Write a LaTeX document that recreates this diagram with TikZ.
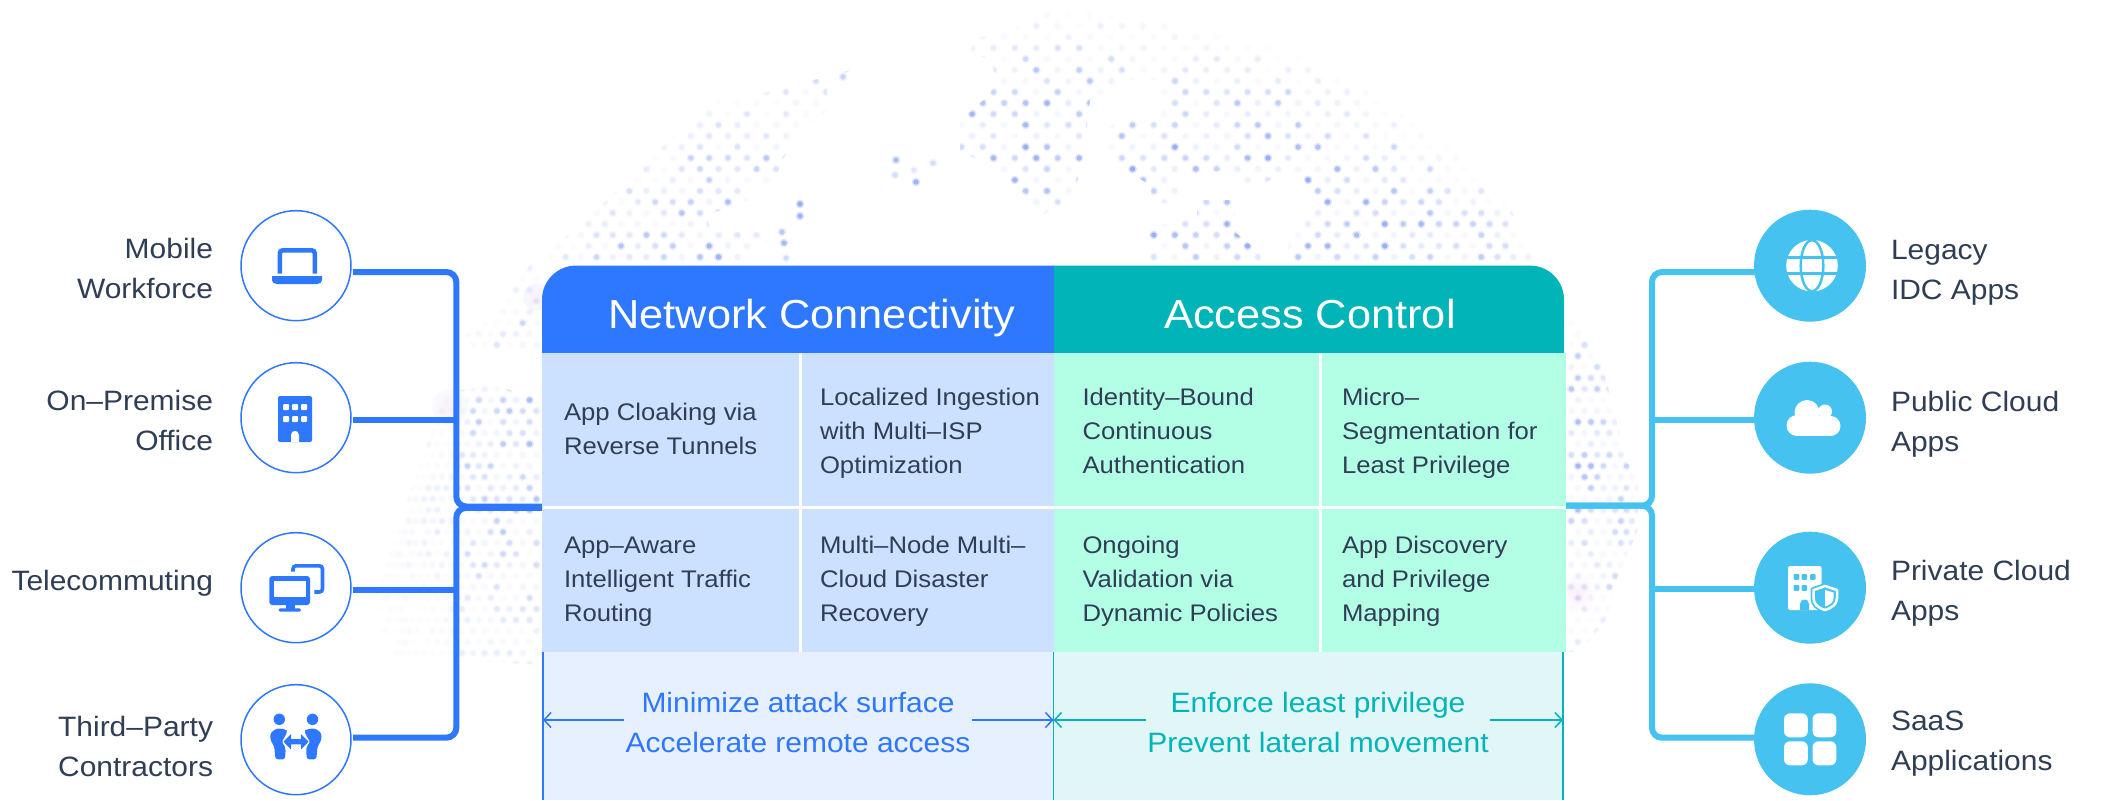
\documentclass[tikz,border=0pt]{standalone}
\usepackage{fontspec}
\setmainfont[FakeStretch=1.07]{Liberation Sans}
\usetikzlibrary{arrows.meta}
\definecolor{bluec}{HTML}{2E77FF}
\definecolor{tealc}{HTML}{00B4B8}
\definecolor{skyc}{HTML}{45C2EF}
\definecolor{inkc}{HTML}{2F3E55}
\definecolor{cellb}{HTML}{CCE0FF}
\definecolor{cellg}{HTML}{B3FFE5}
\definecolor{lowb}{HTML}{E7F0FE}
\definecolor{lowg}{HTML}{E1F6F7}
\definecolor{dotc}{HTML}{8FA8F2}
\definecolor{glowc}{HTML}{F3F7FF}
\definecolor{pinkc}{HTML}{FCEFF8}
\pgfdeclareradialshading{globeglow}{\pgfpointorigin}{color(0bp)=(white); color(29bp)=(white); color(41bp)=(glowc); color(47bp)=(glowc!70!white); color(50bp)=(white)}
\newcommand\uptall{\rule{0pt}{22pt}}
\newcommand\dnlow{\rule[-8pt]{0pt}{8pt}}
\newcommand\upcell{\rule{0pt}{18pt}}
\newcommand\dncell{\rule[-6pt]{0pt}{6pt}}
\tikzset{
  every node/.style={inner sep=0pt,outer sep=0pt},
  lab/.style={text=inkc,font=\fontsize{28}{40}\selectfont,align=left},
  labr/.style={text=inkc,font=\fontsize{28}{40}\selectfont,align=right},
  ring/.style={circle,draw=bluec,line width=1.5pt,fill=white,minimum size=110pt},
  disc/.style={circle,fill=skyc,minimum size=112pt},
  busl/.style={draw=bluec,line width=6pt,rounded corners=10pt},
  busr/.style={draw=skyc,line width=6pt,rounded corners=10pt},
  headt/.style={text=white,font=\fontsize{40.5}{48}\selectfont,anchor=base},
  celltxt/.style={text=inkc,font=\fontsize{24}{34}\selectfont,align=left,anchor=west},
  goal/.style={font=\fontsize{28}{40}\selectfont,align=center},
}
\begin{document}
\begin{tikzpicture}[x=1pt,y=-1pt]
\useasboundingbox (0,0) rectangle (2116,800);
\fill[white] (0,0) rectangle (2116,800);
% globe
\begin{scope}
\clip (0,0) rectangle (2116,800);
\shade[shading=globeglow] (1047,680) circle (675);
\shade[inner color=pinkc,outer color=glowc!50!white] (450,407) circle (18);
\shade[inner color=pinkc,outer color=glowc!70!white] (537,297) circle (14);
\shade[inner color=pinkc,outer color=white] (1577,593) circle (20);
\begin{scope}
\clip
 (850,70) -- (778,90) -- (711,103) -- (675,135) -- (639,168) -- (607,200) -- (568,235) -- (530,265) -- (490,320) -- (465,335) -- (475,350) -- (545,350) -- (560,268) -- (715,268) -- (752,268) -- (752,242) -- (770,242) -- (770,232) -- (712,232) -- (708,222) -- (715,212) -- (748,200) -- (740,188) -- (770,186) -- (778,172) -- (782,160) -- (800,135) -- (825,112) -- (828,85) -- cycle
 (445,392) -- (495,385) -- (542,400) -- (542,665) -- (385,655) -- (375,600) -- (400,520) -- (425,450) -- cycle
 (1040,13) -- (1083,10) -- (1165,23) -- (1261,37) -- (1340,73) -- (1419,127) -- (1469,160) -- (1511,210) -- (1540,263) -- (1603,368) -- (1618,427) -- (1625,460) -- (1638,475) -- (1638,530) -- (1618,575) -- (1606,620) -- (1580,652) -- (1564,652) -- (1300,300) -- (1147,268) -- (1150,227) -- (1197,217) -- (1197,200) -- (1233,200) -- (1236,233) -- (1254,247) -- (1269,268) -- (1286,268) -- (1290,233) -- (1308,213) -- (1315,200) -- (1304,180) -- (1294,170) -- (1254,187) -- (1240,185) -- (1226,170) -- (1179,177) -- (1176,203) -- (1151,203) -- (1151,185) -- (1122,170) -- (1111,157) -- (1108,130) -- (1122,117) -- (1158,120) -- (1160,80) -- (1119,80) -- (1111,97) -- (1090,100) -- (1086,133) -- (1083,160) -- (1077,182) -- (1072,199) -- (1054,208) -- (1039,218) -- (1026,204) -- (1007,180) -- (986,163) -- (960,152) -- (960,120) -- (986,98) -- (998,82) -- (990,60) -- (970,52) -- (975,38) -- (1014,30) -- cycle;
\pgfmathsetseed{11}
\foreach \r in {0,...,60}{
 \foreach \k in {-49,...,49}{
  \pgfmathsetmacro\yy{15+11*\r}
  \pgfmathsetmacro\xx{1047+675*sin((\k+0.5*mod(\r,2))*1.82)}
  \pgfmathsetmacro\dd{sqrt(((\xx-1047)/100)^2+((\yy-680)/100)^2)/6.75}
  \pgfmathtruncatemacro\vis{(\dd<1)&&!((\yy>262)&&(\xx>538)&&(\xx<1568))?1:0}
  \ifnum\vis=1
   \pgfmathsetmacro\rr{rnd}
   \pgfmathsetmacro\op{(0.05+0.85*\rr*\rr)*min(1,(1-\dd)*6+0.05)*max(0.2,min(1,1-(\yy-440)/230))*(\xx<456?0.55:1)}
   \pgfmathsetmacro\oph{\op*0.35}
   \fill[dotc,opacity=\oph] (\xx,\yy) circle (4.4);
   \fill[dotc,opacity=\op] (\xx,\yy) circle (2.7);
  \fi
 }
}
\end{scope}
\foreach \a/\b/\o in {800/204/.9,800/216/.8,782/232/.5,784/243/.7,786/258/.3,896/160/.7,895/175/.3,916/182/.8,933/163/.3,914/170/.2,843/77/.4}{
 \pgfmathsetmacro\oph{\o*0.35}
 \fill[dotc,opacity=\oph] (\a,\b) circle (4.4);
 \fill[dotc,opacity=\o] (\a,\b) circle (2.7);
}
\end{scope}

% named connection points
\coordinate (lj1) at (353,272);
\coordinate (lj2) at (353,420);
\coordinate (lj3) at (353,590);
\coordinate (lj4) at (353,737.7);
\coordinate (lbus) at (456.3,507);
\coordinate (lin1) at (542,506.5);
\coordinate (lin2) at (542,507.8);
\coordinate (rj1) at (1770,272);
\coordinate (rj2) at (1770,420);
\coordinate (rj3) at (1770,588.7);
\coordinate (rj4) at (1770,737.7);
\coordinate (rbus) at (1652,506);
\coordinate (rin) at (1566,505.7);

% connectors
\draw[busl] (lj1) -- (lbus|-lj1) -- (lbus|-lin1) -- (lin1);
\draw[busl] (lj4) -- (lbus|-lj4) -- (lbus|-lin2) -- (lin2);
\draw[busl] (lj2) -- (lbus|-lj2);
\draw[busl] (lj3) -- (lbus|-lj3);
\draw[busr] (rj1) -- (rbus|-rj1) -- (rbus|-rin) -- (rin);
\draw[busr] (rj4) -- (rbus|-rj4) -- (rbus|-rin) -- (rin);
\draw[busr] (rj2) -- (rbus|-rj2);
\draw[busr] (rj3) -- (rbus|-rj3);

% panel header
\fill[bluec] (542,353) -- (542,299.6) .. controls (542,280.8) and (557.2,265.6) .. (576,265.6) -- (1054.5,265.6) -- (1054.5,353) -- cycle;
\fill[tealc] (1054,353) -- (1054,265.6) -- (1530,265.6) .. controls (1548.8,265.6) and (1564,280.8) .. (1564,299.6) -- (1564,353) -- cycle;
\node[headt] (hnet) at (812,328) {Network Connectivity};
\node[headt] (hacc) at (1310,328) {Access Control};

% cells
\fill[cellb] (542,353) rectangle (798.5,505.6);
\fill[cellb] (801.5,353) rectangle (1054,505.6);
\fill[cellg] (1054,353) rectangle (1318.5,505.6);
\fill[cellg] (1321.5,353) rectangle (1566,505.6);
\fill[cellb] (542,509.4) rectangle (798.5,652);
\fill[cellb] (801.5,509.4) rectangle (1054,652);
\fill[cellg] (1054,509.4) rectangle (1318.5,652);
\fill[cellg] (1321.5,509.4) rectangle (1566,652);
\node[celltxt] (c11) at (564,431) {\upcell App Cloaking via\\Reverse Tunnels\dncell};
\node[celltxt] (c12) at (820,433.5) {\upcell Localized Ingestion\\with Multi–ISP\\Optimization\dncell};
\node[celltxt] (c13) at (1082.5,433.5) {\upcell Identity–Bound\\Continuous\\Authentication\dncell};
\node[celltxt] (c14) at (1342,433.5) {\upcell Micro–\\Segmentation for\\Least Privilege\dncell};
\node[celltxt] (c21) at (564,581.7) {\upcell App–Aware\\Intelligent Traffic\\Routing\dncell};
\node[celltxt] (c22) at (820,581.7) {\upcell Multi–Node Multi–\\Cloud Disaster\\Recovery\dncell};
\node[celltxt] (c23) at (1082.5,581.7) {\upcell Ongoing\\Validation via\\Dynamic Policies\dncell};
\node[celltxt] (c24) at (1342,581.7) {\upcell App Discovery\\and Privilege\\Mapping\dncell};

% lower band
\fill[lowb] (542,652) rectangle (1054,800);
\fill[lowg] (1054,652) rectangle (1563,800);
\draw[bluec,line width=1.5pt] (543,652) -- (543,800);
\draw[tealc,line width=1.5pt] (1053.5,652) -- (1053.5,800);
\draw[tealc,line width=1.5pt] (1563,652) -- (1563,800);
\node[goal,text=bluec] (gl) at (798,725.5) {\uptall Minimize attack surface\\Accelerate remote access\dnlow};
\node[goal,text=tealc] (gr) at (1318,725.5) {\uptall Enforce least privilege\\Prevent lateral movement\dnlow};
\coordinate (al) at (543,720);
\coordinate (am) at (1053.5,720);
\coordinate (ar) at (1563,720);
\coordinate (agl1) at (623.5,720);
\coordinate (agl2) at (972,720);
\coordinate (agr1) at (1146,720);
\coordinate (agr2) at (1490,720);
\draw[bluec,line width=1.5pt,{Straight Barb[length=7pt,width=15pt]}-] (al) -- (agl1);
\draw[bluec,line width=1.5pt,-{Straight Barb[length=7pt,width=15pt]}] (agl2) -- (am);
\draw[tealc,line width=1.5pt,{Straight Barb[length=7pt,width=15pt]}-] (am) -- (agr1);
\draw[tealc,line width=1.5pt,-{Straight Barb[length=7pt,width=15pt]}] (agr2) -- (ar);

% left circles
\node[ring] (u1) at (296,265.7) {};
\node[ring] (u2) at (296,417.7) {};
\node[ring] (u3) at (296,587.7) {};
\node[ring] (u4) at (296,739.7) {};
% laptop
\draw[bluec,line width=4.5pt,rounded corners=3pt] (279.8,273.5) -- (279.8,250.3) -- (314.8,250.3) -- (314.8,273.5);
\fill[bluec] (272,276) -- (322,276) -- (322,279) .. controls (322,282.5) and (320,284) .. (317,284) -- (277,284) .. controls (274,284) and (272,282.5) .. (272,279) -- cycle;
% building
\fill[bluec,rounded corners=2pt] (278,396) rectangle (312,442);
\foreach \a in {283,292,301}{\foreach \b in {404,416}{\fill[white,rounded corners=1pt] (\a,\b) rectangle ++(6.2,6);}}
\fill[white] (291,442) -- (291,435) .. controls (291,429.5) and (299,429.5) .. (299,435) -- (299,442) -- cycle;
% monitors
\draw[bluec,line width=3.6pt,rounded corners=3pt] (293,571.7) -- (293,565.8) -- (322.5,565.8) -- (322.5,592) -- (314.3,592);
\fill[white,rounded corners=4pt] (267,573.5) rectangle (312.5,607);
\fill[bluec,rounded corners=3pt] (269.3,576) rectangle (310,605);
\fill[white] (274.3,580.7) rectangle (306.4,596.7);
\fill[bluec] (286,604) rectangle (295,609);
\fill[bluec,rounded corners=1.5pt] (278.6,608.3) rectangle (301,611.7);
% people
\fill[bluec] (279.3,719.3) circle (5.7);
\fill[bluec] (312.5,719.3) circle (5.7);
\fill[bluec,rounded corners=2.5pt] (276.8,728.3) -- (285.7,729.3) -- (287.5,731.7) -- (282,741.7) -- (285.7,748.3) -- (285,759.3) -- (275.5,759.3) -- (274.3,746.7) -- (270.4,740) -- (270.4,733) -- cycle;
\begin{scope}[shift={(591.8,0)},xscale=-1]
\fill[bluec,rounded corners=2.5pt] (276.8,728.3) -- (285.7,729.3) -- (287.5,731.7) -- (282,741.7) -- (285.7,748.3) -- (285,759.3) -- (275.5,759.3) -- (274.3,746.7) -- (270.4,740) -- (270.4,733) -- cycle;
\end{scope}
\draw[white,line width=2.5pt,line join=round] (283.5,741.7) -- (291,734) -- (291,739) -- (301,739) -- (301,734) -- (308.5,741.7) -- (301,749.4) -- (301,744.4) -- (291,744.4) -- (291,749.4) -- cycle;
\fill[bluec] (283.5,741.7) -- (291,734) -- (291,739) -- (301,739) -- (301,734) -- (308.5,741.7) -- (301,749.4) -- (301,744.4) -- (291,744.4) -- (291,749.4) -- cycle;

% left labels
\node[labr,anchor=east] (tu1) at (213,271) {\uptall Mobile\\Workforce\dnlow};
\node[labr,anchor=east] (tu2) at (213,423) {\uptall On–Premise\\Office\dnlow};
\node[labr,anchor=east] (tu3) at (213,583) {\uptall Telecommuting\dnlow};
\node[labr,anchor=east] (tu4) at (213,749) {\uptall Third–Party\\Contractors\dnlow};

% right circles
\node[disc] (s1) at (1810,265.7) {};
\node[disc] (s2) at (1810,417.7) {};
\node[disc] (s3) at (1810,587.7) {};
\node[disc] (s4) at (1810,739.3) {};
% globe icon
\fill[white] (1812,265.7) circle (25.8);
\draw[skyc,line width=2.5pt] (1812,265.7) ellipse (11.3 and 25.5);
\draw[skyc,line width=2.5pt] (1784,257.7) -- (1840,257.7);
\draw[skyc,line width=2.5pt] (1784,273.3) -- (1840,273.3);
% cloud
\fill[white] (1797,425.5) circle (10.5);
\fill[white] (1807,412.5) circle (12.5);
\fill[white] (1825,411.5) circle (7);
\fill[white] (1830.5,426) circle (10);
\fill[white] (1796,416) rectangle (1832,436);
% building + shield
\fill[white,rounded corners=2pt] (1788,566) rectangle (1821.5,610);
\foreach \a/\b in {1793.7/574,1801.6/574,1810/574,1793.7/585,1801.6/585}{\fill[skyc,rounded corners=1pt] (\a,\b) rectangle ++(5.6,5.8);}
\fill[skyc] (1800,610) -- (1800,604) .. controls (1800,598) and (1809,598) .. (1809,604) -- (1809,610) -- cycle;
\draw[skyc,fill=skyc,line width=6pt,line join=round] (1825.2,586) -- (1837,590) -- (1837,598) .. controls (1837,604) and (1832,608) .. (1825.2,610) .. controls (1818,608) and (1813.5,604) .. (1813.5,598) -- (1813.5,590) -- cycle;
\draw[white,fill=skyc,line width=2.5pt,line join=round] (1825.2,586) -- (1837,590) -- (1837,598) .. controls (1837,604) and (1832,608) .. (1825.2,610) .. controls (1818,608) and (1813.5,604) .. (1813.5,598) -- (1813.5,590) -- cycle;
\fill[white] (1825.2,590) -- (1833.5,592.5) -- (1833.5,598) .. controls (1833.5,602) and (1830,605) .. (1825.2,606.5) -- cycle;
% apps
\foreach \a in {1784,1812.5}{\foreach \b in {713.3,741.3}{\fill[white,rounded corners=6pt] (\a,\b) rectangle ++(23.8,24);}}

% right labels
\node[lab,anchor=west] (ts1) at (1891,272) {\uptall Legacy\\IDC Apps\dnlow};
\node[lab,anchor=west] (ts2) at (1891,424) {\uptall Public Cloud\\Apps\dnlow};
\node[lab,anchor=west] (ts3) at (1891,593.8) {\uptall Private Cloud\\Apps\dnlow};
\node[lab,anchor=west] (ts4) at (1891,743.3) {\uptall SaaS\\Applications\dnlow};
\end{tikzpicture}
\end{document}
